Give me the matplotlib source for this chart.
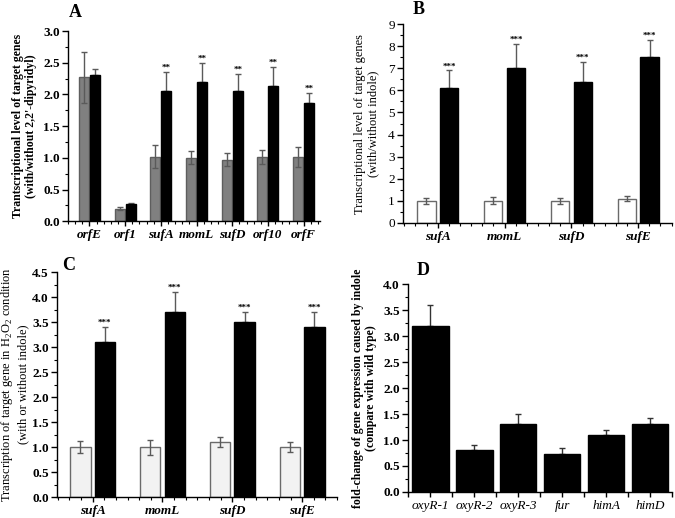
import numpy as np
import matplotlib
matplotlib.use("Agg")
import matplotlib.pyplot as plt
from matplotlib.ticker import MultipleLocator, FixedLocator

plt.rcParams["font.family"] = ["Liberation Serif", "DejaVu Serif"]
plt.rcParams["mathtext.fontset"] = "custom"
plt.rcParams["mathtext.rm"] = "Liberation Serif"

# panel A
genes_a = ["orfE", "orf1", "sufA", "momL", "sufD", "orf10", "orfF"]
without_a = [2.27, 0.20, 1.02, 1.00, 0.97, 1.02, 1.01]
without_a_err = [0.40, 0.02, 0.18, 0.10, 0.10, 0.11, 0.16]
with_a = [2.30, 0.27, 2.06, 2.20, 2.06, 2.13, 1.86]
with_a_err = [0.10, 0.01, 0.30, 0.30, 0.27, 0.30, 0.17]
stars_a = ["", "", "**", "**", "**", "**", "**"]

# panel B
genes_b = ["sufA", "momL", "sufD", "sufE"]
without_b = [1.0, 1.0, 1.0, 1.1]
without_b_err = [0.15, 0.16, 0.12, 0.12]
with_b = [6.1, 7.0, 6.4, 7.5]
with_b_err = [0.8, 1.1, 0.9, 0.8]

# panel C
genes_c = ["sufA", "momL", "sufD", "sufE"]
without_c = [1.01, 1.00, 1.10, 1.00]
without_c_err = [0.12, 0.15, 0.10, 0.10]
with_c = [3.1, 3.7, 3.5, 3.4]
with_c_err = [0.3, 0.4, 0.2, 0.3]

# panel D
genes_d = ["oxyR-1", "oxyR-2", "oxyR-3", "fur", "himA", "himD"]
fold_d = [3.2, 0.8, 1.3, 0.74, 1.1, 1.3]
fold_d_err = [0.4, 0.1, 0.2, 0.11, 0.1, 0.12]

ERR = "#5a5a5a"


def style_axis(ax, bold):
    for side in ("top", "right"):
        ax.spines[side].set_visible(False)
    for side in ("left", "bottom"):
        ax.spines[side].set_linewidth(1.0)
    ax.tick_params(which="major", direction="out", length=4, width=1.0,
                   labelsize=9.5, pad=2)
    ax.tick_params(which="minor", direction="out", length=2.5, width=0.8)
    ax.tick_params(axis="x", which="major", length=3.5)
    if bold:
        for lab in ax.get_yticklabels():
            lab.set_fontweight("bold")


def pair_panel(ax, genes, left, left_err, right, right_err, width, off,
               left_face, left_edge, stars, star_size):
    x = np.arange(len(genes))
    ax.bar(x - off, left, width, color=left_face, edgecolor=left_edge,
           linewidth=1.0, zorder=2)
    ax.errorbar(x - off, left, yerr=left_err, fmt="none", ecolor=ERR,
                elinewidth=1.0, capsize=2.5, capthick=1.0, zorder=3)
    ax.bar(x + off, right, width, color="black", edgecolor="black",
           linewidth=1.0, zorder=2)
    ax.errorbar(x + off, right, yerr=[np.zeros(len(right)), right_err],
                fmt="none", ecolor=ERR, elinewidth=1.0, capsize=2.5,
                capthick=1.0, zorder=1)
    for xi, yi, ei, s in zip(x + off, right, right_err, stars):
        if s:
            ax.text(xi, yi + ei, s, ha="center", va="bottom",
                    fontsize=star_size, fontweight="bold")
    ax.set_xlim(-0.55, len(genes) - 0.5)
    ax.set_xticks(x)
    ax.set_xticklabels(genes, style="italic", fontweight="bold", fontsize=10)
    return x


fig = plt.figure(figsize=(6.75, 5.18), dpi=100)

# A
axA = fig.add_axes([0.1007, 0.573, 0.373, 0.367])
pair_panel(axA, genes_a, without_a, without_a_err, with_a, with_a_err,
           0.28, 0.155, "#808080", "#5e5e5e", stars_a, 6.5)
axA.set_xlim(-0.6, 6.45)
axA.set_ylim(0, 3.0)
axA.yaxis.set_major_locator(MultipleLocator(0.5))
axA.yaxis.set_minor_locator(MultipleLocator(0.25))
axA.xaxis.set_minor_locator(MultipleLocator(0.2))
axA.set_ylabel("Trantscriptional level of target genes\n"
               "(with/without 2,2'-dipyridyl)", fontsize=8.5,
               fontweight="bold", labelpad=4)
style_axis(axA, True)

# B
axB = fig.add_axes([0.597, 0.5695, 0.398, 0.384])
pair_panel(axB, genes_b, without_b, without_b_err, with_b, with_b_err,
           0.275, 0.17, "white", "#6a6a6a", ["***"] * 4, 6.5)
axB.set_xlim(-0.52, 3.5)
axB.set_ylim(0, 9)
axB.yaxis.set_major_locator(MultipleLocator(1))
axB.yaxis.set_minor_locator(MultipleLocator(0.5))
axB.xaxis.set_minor_locator(FixedLocator(np.arange(-0.5, 3.51, 1 / 6)))
axB.set_ylabel("Transcriptional level of target genes\n"
               "(with/without indole)", fontsize=9, labelpad=6)
style_axis(axB, False)

# C
axC = fig.add_axes([0.0844, 0.0405, 0.415, 0.434])
pair_panel(axC, genes_c, without_c, without_c_err, with_c, with_c_err,
           0.29, 0.175, "#f2f2f2", "#6a6a6a", ["***"] * 4, 6.5)
axC.set_xlim(-0.51, 3.5)
axC.set_ylim(0, 4.5)
axC.yaxis.set_major_locator(MultipleLocator(0.5))
axC.yaxis.set_minor_locator(MultipleLocator(0.25))
axC.xaxis.set_minor_locator(FixedLocator(np.arange(-0.5, 3.51, 1 / 6)))
axC.set_ylabel("Transcription of target gene in H$_2$O$_2$ condition\n"
               "(with or without indole)", fontsize=9, labelpad=2)
style_axis(axC, True)

# D
axD = fig.add_axes([0.6044, 0.0502, 0.391, 0.4015])
xd = np.arange(len(genes_d))
axD.bar(xd, fold_d, 0.83, color="black", edgecolor="black", zorder=2)
axD.errorbar(xd, fold_d, yerr=[np.zeros(len(fold_d)), fold_d_err],
             fmt="none", ecolor="#333333", elinewidth=1.0, capsize=2.5,
             capthick=1.0, zorder=1)
axD.set_xlim(-0.51, 5.5)
axD.set_ylim(0, 4.0)
axD.set_xticks(xd)
axD.set_xticklabels(genes_d, style="italic", fontsize=10)
axD.yaxis.set_major_locator(MultipleLocator(0.5))
axD.yaxis.set_minor_locator(MultipleLocator(0.25))
axD.xaxis.set_minor_locator(FixedLocator(np.arange(-0.5, 5.51, 1.0)))
axD.set_ylabel("fold-change of gene expression caused by indole\n"
               "(compare with wild type)", fontsize=8.5, fontweight="bold",
               labelpad=4)
style_axis(axD, True)
axD.tick_params(axis="x", which="minor", length=3.5, width=1.0)

# panel letters
fig.text(0.111, 0.976, "A", fontsize=13, fontweight="bold", va="center", ha="center")
fig.text(0.620, 0.982, "B", fontsize=13, fontweight="bold", va="center", ha="center")
fig.text(0.101, 0.488, "C", fontsize=13, fontweight="bold", va="center", ha="center")
fig.text(0.627, 0.477, "D", fontsize=13, fontweight="bold", va="center", ha="center")

fig.savefig("out.png", dpi=100)
